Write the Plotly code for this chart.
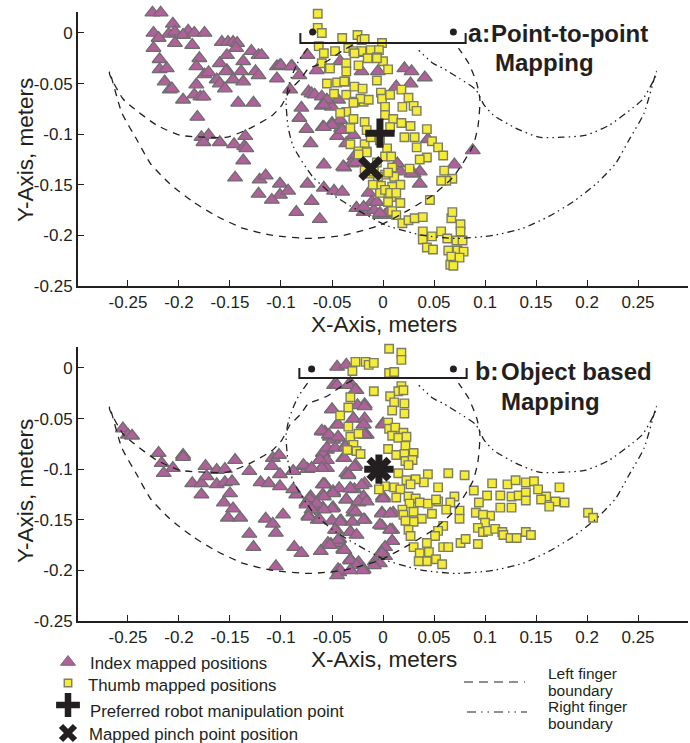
import plotly.graph_objects as go

W, H = 690, 743
INK = "#231f20"
FONT = "Liberation Sans, Arial, sans-serif"
TRI = "#b0609a"
TRI_E = "#6e6e6e"
SQ = "#f4ec38"
SQ_E = "#7d7d62"

x_ticks = [-0.25, -0.2, -0.15, -0.1, -0.05, 0, 0.05, 0.1, 0.15, 0.2, 0.25]
x_labels = ["-0.25", "-0.2", "-0.15", "-0.1", "-0.05", "0", "0.05", "0.1", "0.15", "0.2", "0.25"]
y_ticks = [0, -0.05, -0.1, -0.15, -0.2, -0.25]
y_labels = ["0", "-0.05", "-0.1", "-0.15", "-0.2", "-0.25"]

index_top = [(-.226,.020),(-.218,.020),(-.206,.009),(-.225,0),(-.210,-.001),(-.204,.001),(-.191,.002),(-.196,-.002),(-.185,0),(-.175,0),
(-.220,-.005),(-.204,-.010),(-.187,-.012),(-.225,-.015),(-.219,-.026),(-.180,-.025),(-.158,-.009),(-.152,-.009),(-.147,-.009),(-.143,-.010),
(-.144,-.015),(-.153,-.022),(-.129,-.018),(-.122,-.022),(-.119,-.022),(-.160,-.030),(-.137,-.028),(-.183,-.033),(-.219,-.036),(-.212,-.035),
(-.175,-.041),(-.171,-.039),(-.153,-.037),(-.154,-.038),(-.139,-.038),(-.125,-.038),(-.122,-.042),(-.104,-.033),(-.101,-.032),(-.089,-.033),
(-.104,-.045),(-.163,-.046),(-.160,-.050),(-.155,-.055),(-.147,-.046),(-.137,-.048),(-.214,-.048),(-.209,-.056),(-.207,-.055),(-.183,-.051),
(-.196,-.066),(-.185,-.061),(-.179,-.063),(-.176,-.063),(-.142,-.069),(-.127,-.069),(-.182,-.083),(-.178,-.103),(-.171,-.101),(-.176,-.108),
(-.160,-.108),(-.135,-.102),(-.146,-.110),(-.136,-.112),(-.134,-.114),(-.137,-.126),(-.145,-.143),(-.121,-.145),(-.115,-.141),(-.101,-.149),
(-.122,-.159),(-.101,-.160),(-.093,-.156),(-.109,-.165),(-.085,-.177),(-.070,-.166),(-.062,-.184),(-.074,-.149),(-.058,-.153),(-.048,-.156),
(-.040,-.157),(-.026,-.173),(-.074,-.022),(-.100,-.032),(-.090,-.033),(-.082,-.042),(-.091,-.056),(-.073,-.058),(-.070,-.060),(-.067,-.061),
(-.060,-.063),(-.060,-.072),(-.080,-.074),(-.082,-.084),(-.075,-.095),(-.059,-.093),(-.050,-.089),(-.045,-.102),(-.071,-.109),(-.058,-.130),
(-.038,-.133),(-.014,-.158),(-.011,-.167),(-.003,-.180),(.002,-.180),(-.019,-.177),(-.009,-.175),(-.065,-.037),(-.042,-.028),(-.021,-.038),
(-.005,-.038),(.021,-.035),(.028,-.038),(.041,-.044),(.027,-.050),(.013,-.053),(-.041,-.094),(-.036,-.109),(-.029,-.101),(-.028,-.122),
(-.031,-.129),(.044,-.105),(.088,-.116),(.070,-.130),(.036,-.137),(.030,-.139),(.036,-.149),(.017,-.137),(-.044,-.066),(-.050,-.073),
(-.055,-.066),(-.042,-.086),(-.022,-.020),(-.058,-.071),(-.040,-.096),(-.039,-.132),(-.027,-.128),(.014,-.129),(.028,-.139),(-.006,-.167),
(-.026,-.173),(-.019,-.172),(.004,-.178),(-.003,-.178),(-.050,-.091),(-.058,-.093)]

thumb_top = [(-.064,.019),(-.064,.005),(-.060,0),(-.040,-.005),(-.025,-.002),(-.021,-.007),(-.018,-.006),(-.001,-.010),(-.034,-.015),(-.029,-.018),
(-.021,-.018),(-.012,-.017),(-.004,-.017),(-.063,-.013),(-.058,-.020),(-.047,-.018),(-.060,-.030),(-.053,-.035),(-.036,-.030),(-.036,-.038),
(-.024,-.032),(-.015,-.025),(-.006,-.024),(0,-.028),(.005,-.036),(-.006,-.047),(-.055,-.050),(-.045,-.049),(-.037,-.048),(-.048,-.060),
(-.036,-.061),(-.028,-.053),(-.020,-.055),(-.028,-.068),(-.019,-.068),(-.022,-.065),(-.002,-.059),(-.001,-.065),(.007,-.061),(.018,-.056),
(.025,-.064),(.019,-.073),(.030,-.072),(.033,-.077),(.002,-.073),(-.036,-.078),(-.042,-.079),(.002,-.081),(-.029,-.085),(-.018,-.088),
(.010,-.085),(.018,-.089),(.027,-.092),(.043,-.095),(-.032,-.094),(.007,-.093),(-.016,-.096),(.021,-.103),(.031,-.103),(.048,-.107),
(.054,-.113),(.059,-.121),(.033,-.113),(.043,-.123),(.036,-.125),(-.032,-.110),(-.018,-.110),(-.016,-.117),(-.003,-.106),(.004,-.114),
(.002,-.122),(.008,-.122),(.009,-.133),(.011,-.142),(.002,-.140),(-.005,-.142),(-.013,-.139),(-.018,-.136),(.026,-.134),(.017,-.150),
(.009,-.152),(-.002,-.151),(-.003,-.158),(.008,-.162),(.005,-.167),(.017,-.168),(.009,-.176),(.013,-.180),(.019,-.188),(.025,-.185),
(.031,-.183),(.039,-.182),(.046,-.165),(.060,-.136),(.068,-.144),(.062,-.146),(.057,-.146),(.067,-.183),(.076,-.189),(.076,-.196),
(.068,-.177),(.039,-.196),(.039,-.204),(.048,-.201),(.057,-.196),(.063,-.203),(.072,-.205),(.078,-.205),(.043,-.212),(.049,-.214),
(.064,-.215),(.073,-.215),(.079,-.216),(.067,-.221),(.075,-.222),(.066,-.229),(.069,-.230),(.005,-.138),(-.009,-.137),(.002,-.155),
(.007,-.158),(.013,-.158),(-.024,-.117),(-.016,-.118),(-.024,-.120),(-.014,-.066),(-.029,-.069),(-.038,-.048),(-.028,-.020),(-.052,-.035),
(-.006,-.025),(-.012,-.103),(-.006,-.128),(-.010,-.150)]

index_bottom = [(-.255,-.060),(-.250,-.066),(-.246,-.067),(-.220,-.084),(-.196,-.086),(-.196,-.088),(-.217,-.094),(-.206,-.099),(-.215,-.104),(-.145,-.091),
(-.174,-.097),(-.163,-.101),(-.155,-.100),(-.131,-.102),(-.187,-.114),(-.178,-.114),(-.173,-.107),(-.163,-.115),(-.155,-.113),(-.148,-.112),
(-.178,-.125),(-.150,-.124),(-.156,-.133),(-.147,-.139),(-.152,-.148),(-.140,-.148),(-.115,-.149),(-.108,-.154),(-.098,-.145),(-.105,-.163),
(-.131,-.164),(-.127,-.177),(-.087,-.177),(-.080,-.183),(-.061,-.181),(-.105,-.196),(-.108,-.089),(-.102,-.086),(-.109,-.097),(-.101,-.105),
(-.120,-.113),(-.112,-.114),(-.101,-.117),(-.088,-.102),(-.078,-.097),(-.074,-.100),(-.062,-.091),(-.060,-.099),(-.055,-.099),(-.085,-.125),
(-.088,-.120),(-.075,-.133),(-.071,-.127),(-.073,-.146),(-.064,-.150),(-.059,-.125),(-.059,-.115),(-.049,-.123),(-.036,-.104),(-.032,-.119),
(-.036,-.130),(-.049,-.138),(-.059,-.138),(-.042,-.151),(-.032,-.162),(-.046,-.160),(-.043,-.169),(-.051,-.174),(-.038,-.180),(-.032,-.190),
(-.043,-.202),(-.024,-.192),(-.045,.001),(-.036,.003),(-.048,-.017),(-.032,-.015),(-.026,-.022),(-.050,-.041),(-.029,-.050),(-.045,-.056),
(-.060,-.063),(-.052,-.068),(-.044,-.069),(-.055,-.081),(-.039,-.089),(-.027,-.096),(-.059,-.084),(-.037,-.077),(-.028,-.120),(-.069,-.140),
(-.029,-.143),(-.018,-.036),(-.019,-.056),(-.016,-.066),(-.057,-.063),(-.049,-.071),(-.055,-.091),(-.034,-.105),(-.057,-.115),(-.049,-.122),
(-.018,-.114),(-.019,-.127),(-.024,-.133),(0,-.127),(-.049,-.138),(-.029,-.140),(-.018,-.150),(-.041,-.151),(-.001,-.143),(.010,-.143),
(-.001,-.156),(.009,-.160),(.009,-.171),(-.001,-.181),(-.008,-.191),(-.019,-.199),(-.032,-.189),(-.039,-.179),(-.045,-.173),(-.054,-.173),
(-.044,-.199),(.002,-.186),(0,-.055),(-.045,-.017),(-.034,-.017),(-.027,-.022),(-.025,-.037),(-.018,-.038),(-.050,-.041),(-.029,-.050),
(-.018,-.050),(-.044,-.056),(-.060,-.062),(-.053,-.066),(-.044,-.068),(-.018,-.066),(-.062,-.091),(-.055,-.079),(-.047,-.079),(-.038,-.089),
(-.078,-.096),(-.088,-.102),(-.060,-.099),(-.028,-.098),(0,-.056),(-.037,-.078),(-.019,-.056),(-.070,-.099),(-.034,-.106),(-.058,-.115),
(-.043,-.119),(-.032,-.119),(-.021,-.116),(-.049,-.124),(-.058,-.127),(-.072,-.129),(-.036,-.130),(-.024,-.132),(-.016,-.132),(0,-.129),
(-.075,-.135),(-.065,-.134),(-.050,-.139),(-.058,-.140),(-.070,-.140),(-.027,-.142),(-.001,-.144),(.007,-.144),(-.073,-.147),(-.062,-.150),
(-.050,-.151),(-.042,-.152),(-.030,-.152),(-.019,-.150),(-.003,-.155),(.007,-.160),(-.047,-.160),(-.032,-.162),(-.026,-.165),(-.044,-.170),
(-.052,-.175),(.009,-.171),(-.038,-.180),(.002,-.177),(-.001,-.183),(-.003,-.193),(-.032,-.190),(-.026,-.195),(-.042,-.200),(-.045,-.205),
(-.020,-.200),(-.032,-.200),(-.009,-.195)]

thumb_bottom = [(.006,.019),(.018,.015),(.018,.008),(-.027,.006),(-.017,.006),(-.014,.003),(-.009,.005),(-.030,-.003),(.006,-.005),(.011,-.004),
(-.009,-.023),(.018,-.018),(.015,-.023),(.020,-.022),(.007,-.028),(.011,-.034),(.021,-.035),(.009,-.042),(.021,-.045),(-.032,-.029),
(-.034,-.039),(-.042,-.047),(-.034,-.058),(-.032,-.068),(-.024,-.065),(-.029,-.076),(-.035,-.081),(-.026,-.082),(-.022,-.085),(.005,-.054),
(.006,-.060),(.012,-.059),(.020,-.064),(.009,-.067),(.015,-.069),(.023,-.068),(.022,-.077),(.005,-.080),(.013,-.086),(.021,-.085),
(.030,-.084),(.022,-.092),(.029,-.091),(.025,-.096),(.015,-.104),(.044,-.105),(.064,-.104),(.080,-.106),(.054,-.118),(.040,-.113),
(.032,-.110),(.023,-.111),(.027,-.115),(.002,-.117),(.011,-.118),(.017,-.120),(-.004,-.120),(.013,-.128),(.025,-.127),(.032,-.129),
(.026,-.134),(.036,-.133),(.019,-.140),(.020,-.145),(.030,-.142),(.044,-.134),(.054,-.132),(.052,-.130),(.070,-.127),(.066,-.133),
(.062,-.140),(.048,-.144),(.038,-.149),(.030,-.152),(.022,-.151),(.025,-.160),(.027,-.166),(.075,-.141),(.075,-.149),(.059,-.156),
(.054,-.161),(.051,-.166),(.043,-.173),(.059,-.177),(.064,-.177),(.076,-.173),(.081,-.169),(.093,-.174),(.030,-.177),(.036,-.183),
(.045,-.182),(.052,-.189),(.043,-.191),(.058,-.194),(.035,-.191),(.089,-.121),(.107,-.114),(.122,-.115),(.130,-.111),(.140,-.113),
(.148,-.112),(.152,-.120),(.173,-.118),(.160,-.127),(.155,-.130),(.169,-.132),(.178,-.133),(.163,-.137),(.102,-.126),(.094,-.133),
(.091,-.143),(.105,-.146),(.115,-.138),(.115,-.126),(.126,-.127),(.133,-.126),(.140,-.123),(.140,-.131),(.126,-.138),(.098,-.145),
(.100,-.153),(.093,-.158),(.098,-.162),(.103,-.161),(.110,-.159),(.117,-.162),(.118,-.165),(.125,-.168),(.131,-.168),(.140,-.162),
(.145,-.165),(.201,-.143),(.206,-.148)]

left_boundary = [(-.030,-.012),(-.039,-.017),(-.055,-.028),(-.065,-.032),(-.073,-.035),(-.081,-.046),(-.091,-.056),(-.099,-.071),(-.108,-.081),(-.130,-.094),
(-.153,-.103),(-.176,-.103),(-.199,-.101),(-.222,-.091),(-.245,-.074),(-.255,-.065),(-.268,-.041),(-.268,-.038),(-.256,-.079),(-.241,-.106),
(-.228,-.129),(-.209,-.149),(-.186,-.167),(-.163,-.181),(-.137,-.193),(-.108,-.200),(-.072,-.203),(-.039,-.200),(-.023,-.196),(-.003,-.190),
(.025,-.175),(.049,-.160),(.069,-.142),(.088,-.112),(.093,-.093),(.095,-.066),(.092,-.050),(.084,-.030),(.074,-.015)]

right_boundary = [(-.074,-.015),(-.084,-.030),(-.092,-.050),(-.095,-.066),(-.093,-.093),(-.088,-.112),(-.069,-.142),(-.049,-.160),(-.025,-.175),(.003,-.190),
(.023,-.196),(.039,-.200),(.072,-.203),(.108,-.200),(.137,-.193),(.163,-.181),(.186,-.167),(.209,-.149),(.228,-.129),(.241,-.106),
(.256,-.079),(.268,-.038),(.268,-.041),(.255,-.065),(.245,-.074),(.222,-.091),(.199,-.101),(.176,-.103),(.153,-.103),(.130,-.094),
(.108,-.081),(.099,-.071),(.091,-.056),(.075,-.045),(.059,-.035),(.049,-.030),(.035,-.017)]

gripper_top = [(-.081,0),(-.081,-.010),(.081,-.010),(.081,0)]
gripper_bottom = [(-.082,0),(-.082,-.010),(.082,-.010),(.082,0)]
finger_dots_top = [(-.069,.001),(.069,.001)]
finger_dots_bottom = [(-.070,-.001),(.069,-.001)]
preferred_top = (-.003, -.099)
pinch_top = (-.012, -.134)
preferred_bottom = (-.004, -.100)
pinch_bottom = (-.004, -.100)


def px_x(p):
    return p / W


def px_y(p):
    return 1 - p / H


def xs(pairs):
    return [p[0] for p in pairs]


def ys(pairs):
    return [p[1] for p in pairs]


fig = go.Figure()


def panel(xa, ya, idx, thb, grip, dots, pref, pinch):
    fig.add_trace(go.Scatter(x=xs(idx), y=ys(idx), mode="markers", xaxis=xa, yaxis=ya, cliponaxis=False,
                             marker=dict(symbol="triangle-up", size=13, color=TRI, line=dict(color=TRI_E, width=1.3))))
    fig.add_trace(go.Scatter(x=xs(thb), y=ys(thb), mode="markers", xaxis=xa, yaxis=ya, cliponaxis=False,
                             marker=dict(symbol="square", size=8.5, color=SQ, line=dict(color=SQ_E, width=1.4))))
    fig.add_trace(go.Scatter(x=xs(left_boundary), y=ys(left_boundary), mode="lines", xaxis=xa, yaxis=ya,
                             line=dict(color=INK, width=1.3, dash="7px,6px", shape="spline", smoothing=0.6)))
    fig.add_trace(go.Scatter(x=xs(right_boundary), y=ys(right_boundary), mode="lines", xaxis=xa, yaxis=ya,
                             line=dict(color=INK, width=1.3, dash="7px,4px,1.5px,4px,1.5px,4px", shape="spline", smoothing=0.6)))
    fig.add_trace(go.Scatter(x=xs(grip), y=ys(grip), mode="lines", xaxis=xa, yaxis=ya,
                             line=dict(color=INK, width=2)))
    fig.add_trace(go.Scatter(x=xs(dots), y=ys(dots), mode="markers", xaxis=xa, yaxis=ya,
                             marker=dict(symbol="circle", size=7, color=INK)))
    fig.add_trace(go.Scatter(x=[pref[0]], y=[pref[1]], mode="markers", xaxis=xa, yaxis=ya,
                             marker=dict(symbol="cross-thin", size=21, line=dict(color=INK, width=7))))
    fig.add_trace(go.Scatter(x=[pinch[0]], y=[pinch[1]], mode="markers", xaxis=xa, yaxis=ya,
                             marker=dict(symbol="x-thin", size=20, line=dict(color=INK, width=7))))


panel("x", "y", index_top, thumb_top, gripper_top, finger_dots_top, preferred_top, pinch_top)
panel("x2", "y2", index_bottom, thumb_bottom, gripper_bottom, finger_dots_bottom, preferred_bottom, pinch_bottom)

# legend key glyphs, on an invisible page-sized axis pair
fig.add_trace(go.Scatter(x=[68], y=[662], mode="markers", xaxis="x3", yaxis="y3",
                         marker=dict(symbol="triangle-up", size=13, color=TRI, line=dict(color=TRI_E, width=1))))
fig.add_trace(go.Scatter(x=[68], y=[683], mode="markers", xaxis="x3", yaxis="y3",
                         marker=dict(symbol="square", size=7.5, color=SQ, line=dict(color=SQ_E, width=1.4))))
fig.add_trace(go.Scatter(x=[68], y=[705], mode="markers", xaxis="x3", yaxis="y3",
                         marker=dict(symbol="cross-thin", size=17, line=dict(color=INK, width=6.5))))
fig.add_trace(go.Scatter(x=[68], y=[733], mode="markers", xaxis="x3", yaxis="y3",
                         marker=dict(symbol="x-thin", size=14, line=dict(color=INK, width=6))))

ax_common = dict(range=[-0.299, 0.299], domain=[78 / W, 688 / W], tickmode="array", tickvals=x_ticks, ticktext=x_labels,
                 ticks="inside", ticklen=6, tickwidth=1.3, tickcolor=INK, showline=True, linecolor=INK, linewidth=2,
                 showgrid=False, zeroline=False, tickfont=dict(family=FONT, size=17, color=INK))
ay_common = dict(range=[-0.25, 0.0207], tickmode="array", tickvals=y_ticks, ticktext=y_labels,
                 ticks="inside", ticklen=6, tickwidth=1.3, tickcolor=INK, showline=True, linecolor=INK, linewidth=2,
                 showgrid=False, zeroline=False, tickfont=dict(family=FONT, size=17, color=INK))


def note(text, x, y, size, bold=False, angle=0, anchor="left"):
    t = f"<b>{text}</b>" if bold else text
    return dict(text=t, x=px_x(x), y=px_y(y), xref="paper", yref="paper", showarrow=False, xanchor=anchor, yanchor="middle",
                textangle=angle, font=dict(family=FONT, size=size, color=INK))


annotations = [
    note("X-Axis, meters", 384, 324, 22.5, anchor="center"),
    note("X-Axis, meters", 384, 659, 22.5, anchor="center"),
    note("Y-Axis, meters", 25, 150, 22.5, angle=-90, anchor="center"),
    note("Y-Axis, meters", 25, 491, 22.5, angle=-90, anchor="center"),
    note("a:", 466, 33, 25, bold=True),
    note("Point-to-point", 489, 34, 24, bold=True),
    note("Mapping", 493, 63, 24, bold=True),
    note("b:", 473, 371, 25, bold=True),
    note("Object based", 499, 371, 24, bold=True),
    note("Mapping", 499, 401, 24, bold=True),
    note("Index mapped positions", 88, 663, 16.8),
    note("Thumb mapped positions", 86, 685, 16.8),
    note("Preferred robot manipulation point", 88, 711, 16.8),
    note("Mapped pinch point position", 87, 734, 16.8),
    note("Left finger", 546, 673, 15.5),
    note("boundary", 546, 690, 15.5),
    note("Right finger", 546, 706, 15.5),
    note("boundary", 546, 723, 15.5),
]

shapes = [
    dict(type="line", xref="paper", yref="paper", x0=px_x(464), x1=px_x(525), y0=px_y(682), y1=px_y(682),
         line=dict(color=INK, width=1.2, dash="9px,6px")),
    dict(type="line", xref="paper", yref="paper", x0=px_x(467), x1=px_x(527), y0=px_y(712), y1=px_y(712),
         line=dict(color=INK, width=1.2, dash="9px,5px,1.5px,5px,1.5px,5px")),
]

fig.update_layout(
    width=W, height=H + 10, autosize=False, showlegend=False,
    margin=dict(l=0, r=0, t=0, b=0, pad=0), paper_bgcolor="white", plot_bgcolor="rgba(0,0,0,0)",
    xaxis=dict(anchor="y", **ax_common),
    yaxis=dict(anchor="x", domain=[1 - 286 / H, 1 - 12 / H], **ay_common),
    xaxis2=dict(anchor="y2", **ax_common),
    yaxis2=dict(anchor="x2", domain=[1 - 621 / H, 1 - 347 / H], **ay_common),
    xaxis3=dict(domain=[0, 1], range=[0, W], visible=False, anchor="y3"),
    yaxis3=dict(domain=[0, 1], range=[H, 0], visible=False, anchor="x3"),
    annotations=annotations, shapes=shapes,
)

fig.write_html("out.html", config={"displayModeBar": False},
               post_script="var s=document.documentElement.style;s.overflow='hidden';var b=document.body.style;b.margin='0';b.overflow='hidden';")
